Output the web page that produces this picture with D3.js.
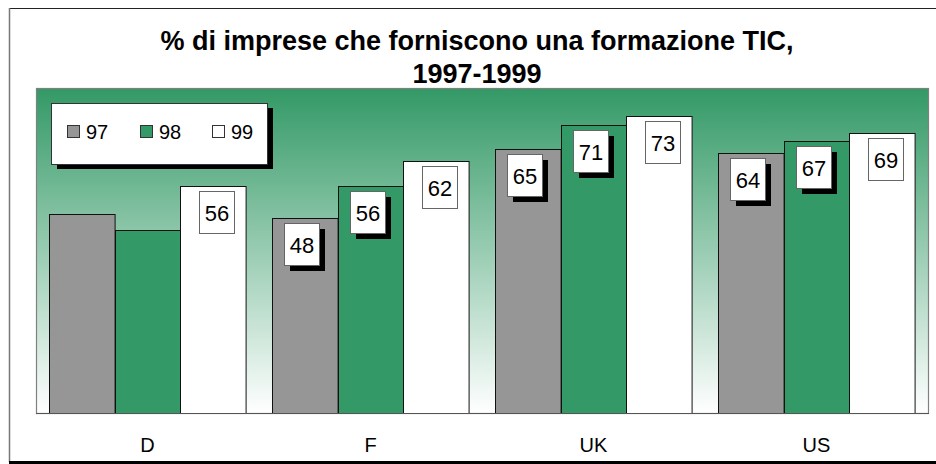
<!DOCTYPE html>
<html>
<head>
<meta charset="utf-8">
<script src="https://cdn.jsdelivr.net/npm/d3@7"></script>
<style>
  html, body { margin: 0; padding: 0; background: #fff; }
  svg { display: block; font-family: Arial, "Liberation Sans", sans-serif; }
</style>
</head>
<body>
<svg id="chart" width="936" height="464"></svg>
<script>
// ---- data ----
const categories = ["D", "F", "UK", "US"];
const seriesNames = ["97", "98", "99"];
const values97 = [49, 48, 65, 64];
const values98 = [45, 56, 71, 67];
const values99 = [56, 62, 73, 69];
const labels97 = [null, "48", "65", "64"];
const labels98 = [null, "56", "71", "67"];
const labels99 = ["56", "62", "73", "69"];
const titleLines = ["% di imprese che forniscono una formazione TIC,", "1997-1999"];
const yDomain = [0, 80];

const seriesValues = [values97, values98, values99];
const seriesLabels = [labels97, labels98, labels99];
const seriesColors = ["#969696", "#339966", "#ffffff"];

const svg = d3.select("#chart");
const W = 936, H = 464;
const plot = { left: 36, top: 88, right: 928, bottom: 413 };

// outer frame
svg.append("line").attr("x1", 9).attr("x2", W).attr("y1", 8.5).attr("y2", 8.5)
  .attr("stroke", "#222").attr("stroke-width", 1);
svg.append("line").attr("x1", 9.5).attr("x2", 9.5).attr("y1", 8).attr("y2", 462)
  .attr("stroke", "#777").attr("stroke-width", 1.5);
svg.append("line").attr("x1", 9).attr("x2", W).attr("y1", 462.5).attr("y2", 462.5)
  .attr("stroke", "#000").attr("stroke-width", 3);

// gradient background
const defs = svg.append("defs");
const grad = defs.append("linearGradient").attr("id", "bg").attr("x1", 0).attr("y1", 0).attr("x2", 0).attr("y2", 1);
grad.append("stop").attr("offset", "0%").attr("stop-color", "#339966");
grad.append("stop").attr("offset", "100%").attr("stop-color", "#ffffff");

svg.append("rect")
  .attr("x", plot.left + 0.5).attr("y", plot.top + 0.5)
  .attr("width", plot.right - plot.left).attr("height", plot.bottom - plot.top)
  .attr("fill", "url(#bg)").attr("stroke", "#808080").attr("stroke-width", 1.2);

// scales
const x0 = d3.scaleBand().domain(categories).range([plot.left, plot.right]).padding(0);
const x1 = d3.scaleBand().domain(seriesNames).range([0, x0.bandwidth()]).paddingInner(0).paddingOuter(0.2);
const y = d3.scaleLinear().domain(yDomain).range([plot.bottom, plot.top]);

// bars
const barData = [];
categories.forEach((c, ci) => {
  seriesNames.forEach((s, si) => {
    barData.push({ c, s, si, v: seriesValues[si][ci], label: seriesLabels[si][ci] });
  });
});

const gBars = svg.append("g");
gBars.selectAll("rect").data(barData).join("rect")
  .attr("x", d => Math.round(x0(d.c) + x1(d.s)) + 0.5)
  .attr("y", d => Math.round(y(d.v)) + 0.5)
  .attr("width", x1.bandwidth())
  .attr("height", d => plot.bottom - Math.round(y(d.v)))
  .attr("fill", d => seriesColors[d.si])
  .attr("stroke", "#111").attr("stroke-width", 1);

// axis baseline
svg.append("line").attr("x1", plot.left).attr("x2", plot.right + 1)
  .attr("y1", plot.bottom + 0.5).attr("y2", plot.bottom + 0.5)
  .attr("stroke", "#555").attr("stroke-width", 1.2);

// x axis labels
const xAxis = d3.axisBottom(x0).tickSize(0).tickPadding(0);
const gx = svg.append("g").attr("transform", `translate(0,${plot.bottom})`).call(xAxis);
gx.select(".domain").remove();
gx.selectAll("text").attr("font-size", 20).attr("fill", "#000")
  .attr("font-family", "Arial, 'Liberation Sans', sans-serif")
  .attr("dy", null).attr("y", 39);

// data labels
const bw = 35, bh = 42, sh = 6;
const gLab = svg.append("g");
const lab = gLab.selectAll("g").data(barData.filter(d => d.label)).join("g")
  .attr("transform", d => {
    const cx = x0(d.c) + x1(d.s) + x1.bandwidth() / 2 + (d.si === 2 ? 3 : -3);
    return `translate(${Math.round(cx - bw / 2)},${Math.round(y(d.v) + 5)})`;
  });
lab.filter(d => d.si !== 2).append("rect")
  .attr("x", sh).attr("y", sh).attr("width", bw).attr("height", bh).attr("fill", "#000");
lab.append("rect").attr("x", 0.5).attr("y", 0.5).attr("width", bw).attr("height", bh)
  .attr("fill", "#fff").attr("stroke", "#666").attr("stroke-width", 1);
lab.append("text").attr("x", bw / 2 + 0.5).attr("y", 30).attr("text-anchor", "middle")
  .attr("font-size", 22).attr("fill", "#000").text(d => d.label);

// legend
const lg = svg.append("g").attr("transform", "translate(51,103)");
lg.append("rect").attr("x", 6).attr("y", 5).attr("width", 216).attr("height", 61).attr("fill", "#000");
lg.append("rect").attr("x", 0.5).attr("y", 0.5).attr("width", 216).attr("height", 61)
  .attr("fill", "#fff").attr("stroke", "#333").attr("stroke-width", 1);
const legX = [16, 89, 161];
const li = lg.selectAll("g.item").data(seriesNames).join("g").attr("class", "item")
  .attr("transform", (d, i) => `translate(${legX[i]},22)`);
li.append("rect").attr("x", 0.5).attr("y", 0.5).attr("width", 12).attr("height", 12)
  .attr("fill", (d, i) => seriesColors[i]).attr("stroke", "#333").attr("stroke-width", 1);
li.append("text").attr("x", 19).attr("y", 14).attr("font-size", 20).attr("fill", "#000").text(d => d);

// title
const tt = svg.append("text").attr("x", 477).attr("text-anchor", "middle")
  .attr("font-size", 27).attr("font-weight", "bold").attr("fill", "#000");
tt.selectAll("tspan").data(titleLines).join("tspan")
  .attr("x", 477).attr("y", (d, i) => 50 + i * 33).text(d => d);
</script>
</body>
</html>
